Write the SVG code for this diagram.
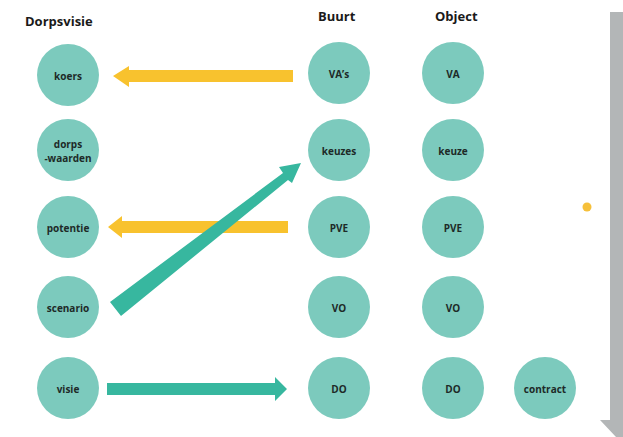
<svg xmlns="http://www.w3.org/2000/svg" width="623" height="437" viewBox="0 0 623 437">
<style>
.n{fill:#7ccabd}
.t{font-family:"Open Sans","Liberation Sans",sans-serif;font-weight:bold;font-size:10px;fill:#1e2a28;text-anchor:middle;dominant-baseline:central}
.h{font-family:"Open Sans","Liberation Sans",sans-serif;font-weight:bold;font-size:13px;fill:#1a1a1a}
.y{fill:#f8c22e}
.g{fill:#37b79f}
</style>
<rect width="623" height="437" fill="#ffffff"/>
<polygon points="610,12 623,12 623,437 616,437 600,420 610,420" fill="#b3b6b7"/>
<circle cx="587" cy="207" r="4.5" fill="#f6c03a"/>
<text class="h" x="25" y="26">Dorpsvisie</text>
<text class="h" x="318" y="21">Buurt</text>
<text class="h" x="435" y="21">Object</text>
<g id="connectors">
<polygon class="y" points="293,70 129,70 129,66 113,76 129,87 129,82 293,82"/>
<polygon class="y" points="288,221 122,221 122,216 108,227 122,238 122,233 288,233"/>
<polygon class="g" points="110,302 283,173 279,167 301,163 292,183 288,180 121,316"/>
<polygon class="g" points="107,383 275,383 275,377 287,389 275,401 275,395 107,395"/>
</g>
<g id="koers"><circle class="n" cx="68" cy="75" r="31"/><text class="t" x="68" y="76">koers</text></g>
<g id="dorpswaarden"><circle class="n" cx="68" cy="150" r="31"/><text class="t" x="68" y="144">dorps</text><text class="t" x="68" y="158">-waarden</text></g>
<g id="potentie"><circle class="n" cx="68" cy="227" r="31"/><text class="t" x="68" y="228">potentie</text></g>
<g id="scenario"><circle class="n" cx="68" cy="307" r="31"/><text class="t" x="68" y="308">scenario</text></g>
<g id="visie"><circle class="n" cx="68" cy="388" r="31"/><text class="t" x="68" y="389">visie</text></g>
<g id="vas"><circle class="n" cx="339" cy="73" r="31"/><text class="t" x="339" y="74">VA’s</text></g>
<g id="keuzes"><circle class="n" cx="339" cy="150" r="31"/><text class="t" x="339" y="151">keuzes</text></g>
<g id="pve-b"><circle class="n" cx="339" cy="227" r="31"/><text class="t" x="339" y="228">PVE</text></g>
<g id="vo-b"><circle class="n" cx="339" cy="307" r="31"/><text class="t" x="339" y="308">VO</text></g>
<g id="do-b"><circle class="n" cx="339" cy="388" r="31"/><text class="t" x="339" y="389">DO</text></g>
<g id="va"><circle class="n" cx="453" cy="73" r="31"/><text class="t" x="453" y="74">VA</text></g>
<g id="keuze"><circle class="n" cx="453" cy="150" r="31"/><text class="t" x="453" y="151">keuze</text></g>
<g id="pve-o"><circle class="n" cx="453" cy="227" r="31"/><text class="t" x="453" y="228">PVE</text></g>
<g id="vo-o"><circle class="n" cx="453" cy="307" r="31"/><text class="t" x="453" y="308">VO</text></g>
<g id="do-o"><circle class="n" cx="453" cy="388" r="31"/><text class="t" x="453" y="389">DO</text></g>
<g id="contract"><circle class="n" cx="545" cy="388" r="31"/><text class="t" x="545" y="389">contract</text></g>
</svg>
